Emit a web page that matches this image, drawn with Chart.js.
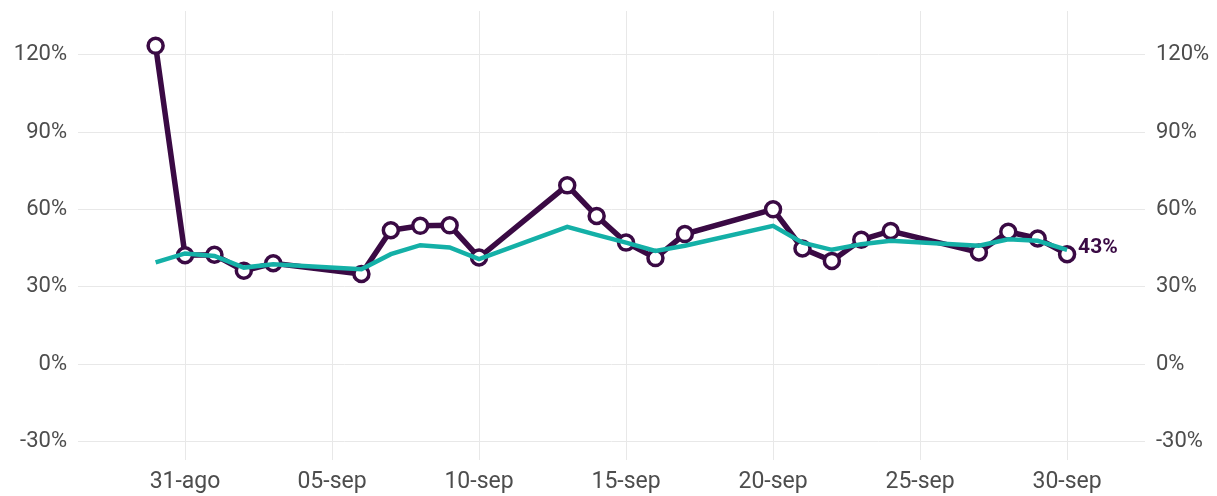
<!DOCTYPE html>
<html>
<head>
<meta charset="utf-8">
<script src="https://cdn.jsdelivr.net/npm/chart.js@4.4.0/dist/chart.umd.min.js"></script>
<style>
  html, body { margin: 0; padding: 0; background: #fff; }
  #wrap { width: 1217px; height: 496px; position: relative; }
</style>
</head>
<body>
<div id="wrap"><canvas id="chart"></canvas></div>
<script>
// days counted from 31-ago (0)
const dias = [-1, 0, 1, 2, 3, 6, 7, 8, 9, 10, 13, 14, 15, 16, 17, 20, 21, 22, 23, 24, 27, 28, 29, 30];
const serieDiaria = [123.5, 42.3, 42.5, 36.3, 39.2, 35.0, 52.0, 53.7, 53.9, 41.4, 69.4, 57.5, 47.2, 41.2, 50.5, 60.1, 44.9, 40.1, 48.3, 51.7, 43.4, 51.4, 48.8, 42.7];
const serieMedia = [39.5, 43.0, 42.0, 37.5, 38.8, 36.9, 42.7, 46.2, 45.3, 40.8, 53.3, 50.2, 47.2, 44.0, 46.0, 53.7, 47.2, 44.4, 46.6, 47.9, 46.0, 48.5, 47.9, 44.4];
const xTicks = [0, 5, 10, 15, 20, 25, 30];
const xTickLabels = ["31-ago", "05-sep", "10-sep", "15-sep", "20-sep", "25-sep", "30-sep"];
const yTicks = [-30, 0, 30, 60, 90, 120];

const purple = "#3a0a44";
const teal = "#14b0a7";
const fontFam = "Roboto, 'Open Sans', sans-serif";

const lastLabel = {
  id: "lastLabel",
  afterDatasetsDraw(chart) {
    const meta = chart.getDatasetMeta(1);
    const pt = meta.data[meta.data.length - 1];
    const v = serieDiaria[serieDiaria.length - 1];
    const ctx = chart.ctx;
    ctx.save();
    ctx.font = "bold 21px " + fontFam;
    ctx.fillStyle = purple;
    ctx.textAlign = "left";
    ctx.textBaseline = "middle";
    ctx.fillText(Math.round(v) + "%", pt.x + 11, pt.y - 6);
    ctx.restore();
  },
};

const noPad = (s) => { s.paddingTop = 0; s.paddingBottom = 0; s.paddingLeft = 0; s.paddingRight = 0; };

const yTickOpts = {
  color: "#4d4d4d",
  font: { family: fontFam, size: 22 },
  padding: 11,
  callback: (v) => v + "%",
};

new Chart(document.getElementById("chart"), {
  type: "line",
  data: {
    datasets: [
      {
        label: "media",
        data: dias.map((d, i) => ({ x: d, y: serieMedia[i] })),
        borderColor: teal,
        borderWidth: 4.5,
        pointRadius: 0,
        tension: 0,
      },
      {
        label: "diaria",
        data: dias.map((d, i) => ({ x: d, y: serieDiaria[i] })),
        borderColor: purple,
        borderWidth: 5.5,
        pointRadius: 7.5,
        pointBorderWidth: 3.5,
        pointBackgroundColor: "#fff",
        pointBorderColor: purple,
        tension: 0,
      },
    ],
  },
  options: {
    responsive: true,
    maintainAspectRatio: false,
    animation: false,
    layout: { padding: 0 },
    plugins: { legend: { display: false }, tooltip: { enabled: false } },
    scales: {
      x: {
        type: "linear",
        min: -3.64,
        max: 32.65,
        afterBuildTicks: (s) => { s.ticks = xTicks.map((v) => ({ value: v })); },
        afterFit: (s) => { s.height = 36; noPad(s); },
        ticks: {
          color: "#4d4d4d",
          font: { family: fontFam, size: 23 },
          padding: 8,
          maxRotation: 0,
          callback: (v) => xTickLabels[xTicks.indexOf(v)] || "",
        },
        grid: { color: "#e8e8e8", lineWidth: 1, drawTicks: false },
        border: { display: false },
      },
      y: {
        position: "left",
        min: -37.1,
        max: 137,
        afterBuildTicks: (s) => { s.ticks = yTicks.map((v) => ({ value: v })); },
        afterFit: (s) => { s.width = 78; noPad(s); },
        ticks: yTickOpts,
        grid: { color: "#e8e8e8", lineWidth: 1, drawTicks: false },
        border: { display: false },
      },
      y2: {
        position: "right",
        min: -37.1,
        max: 137,
        afterBuildTicks: (s) => { s.ticks = yTicks.map((v) => ({ value: v })); },
        afterFit: (s) => { s.width = 72; noPad(s); },
        ticks: yTickOpts,
        grid: { display: false, drawTicks: false },
        border: { display: false },
      },
    },
  },
  plugins: [lastLabel],
});
</script>
</body>
</html>
